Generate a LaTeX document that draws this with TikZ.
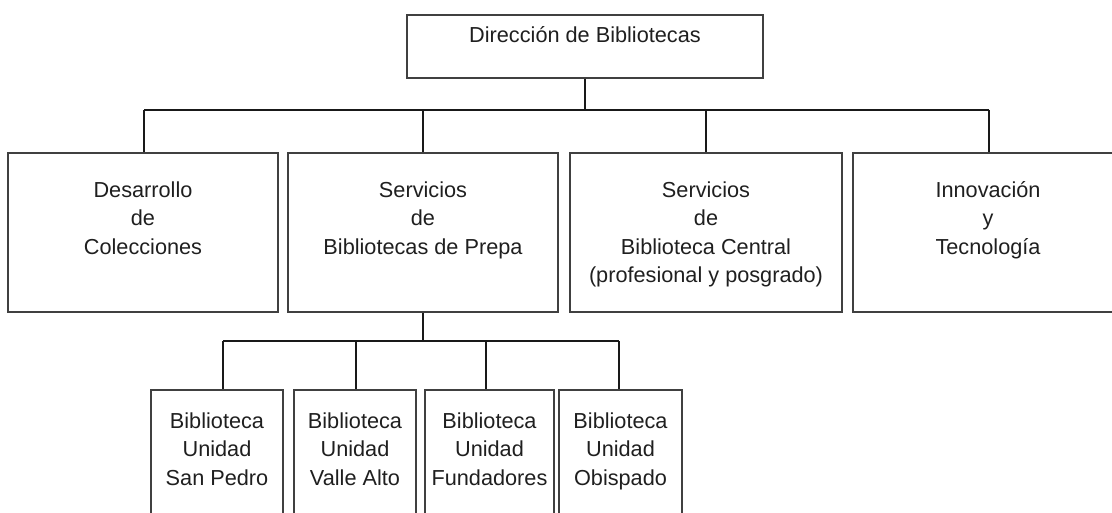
\documentclass[tikz,border=0pt]{standalone}
\usepackage{fontspec}
\setmainfont{Liberation Sans}
\begin{document}
\begin{tikzpicture}[x=1pt,y=-1pt,
  box/.style={draw=black!75, line width=1.3pt, inner sep=0pt, rectangle},
  txt/.style={font=\fontsize{21.7}{28.5}\selectfont, align=center, inner sep=0pt, anchor=north, text=black!88},
  conn/.style={line width=1.5pt, draw=black!90}]
\useasboundingbox (0,0) rectangle (1112,513);
\clip (0,0) rectangle (1112,513);
\newcommand{\fl}{\rule{0pt}{20pt}}
% top
\node[box, minimum width=356pt, minimum height=63pt] (top) at (585,46.5) {};
\node[txt] (ttop) at (585,22) {\fl Dirección de Bibliotecas};
% second row
\node[box, minimum width=270pt, minimum height=159pt] (b1) at (143,232.5) {};
\node[box, minimum width=270pt, minimum height=159pt] (b2) at (423,232.5) {};
\node[box, minimum width=272pt, minimum height=159pt] (b3) at (706,232.5) {};
\node[box, minimum width=270pt, minimum height=159pt] (b4) at (988,232.5) {};
\node[txt] (t1) at (143,177) {\fl Desarrollo\\de\\Colecciones};
\node[txt] (t2) at (423,177) {\fl Servicios\\de\\Bibliotecas de Prepa};
\node[txt] (t3) at (706,177) {\fl Servicios\\de\\Biblioteca Central\\(profesional y posgrado)};
\node[txt] (t4) at (988,177) {\fl Innovación\\y\\Tecnología};
% third row
\node[box, minimum width=132pt, minimum height=140pt] (c1) at (217,460) {};
\node[box, minimum width=122pt, minimum height=140pt] (c2) at (355,460) {};
\node[box, minimum width=129pt, minimum height=140pt] (c3) at (489.5,460) {};
\node[box, minimum width=123pt, minimum height=140pt] (c4) at (620.5,460) {};
\node[txt] (u1) at (217,408) {\fl Biblioteca\\Unidad\\San Pedro};
\node[txt] (u2) at (355,408) {\fl Biblioteca\\Unidad\\Valle Alto};
\node[txt] (u3) at (489.5,408) {\fl Biblioteca\\Unidad\\Fundadores};
\node[txt] (u4) at (620.5,408) {\fl Biblioteca\\Unidad\\Obispado};
% connectors level 1
\coordinate (j0) at (585,110);
\coordinate (ja) at (144,110);
\coordinate (jb) at (423,110);
\coordinate (jc) at (706,110);
\coordinate (jd) at (989,110);
\draw[conn] (top.south) -- (j0);
\draw[conn] (ja) -- (jd);
\draw[conn] (ja) -- (ja |- b1.north);
\draw[conn] (jb) -- (jb |- b2.north);
\draw[conn] (jc) -- (jc |- b3.north);
\draw[conn] (jd) -- (jd |- b4.north);
% connectors level 2
\coordinate (k0) at (423,341);
\coordinate (k1) at (223,341);
\coordinate (k2) at (356,341);
\coordinate (k3) at (486,341);
\coordinate (k4) at (619,341);
\draw[conn] (b2.south) -- (k0);
\draw[conn] (k1) -- (k4);
\draw[conn] (k1) -- (k1 |- c1.north);
\draw[conn] (k2) -- (k2 |- c2.north);
\draw[conn] (k3) -- (k3 |- c3.north);
\draw[conn] (k4) -- (k4 |- c4.north);
\end{tikzpicture}
\end{document}
